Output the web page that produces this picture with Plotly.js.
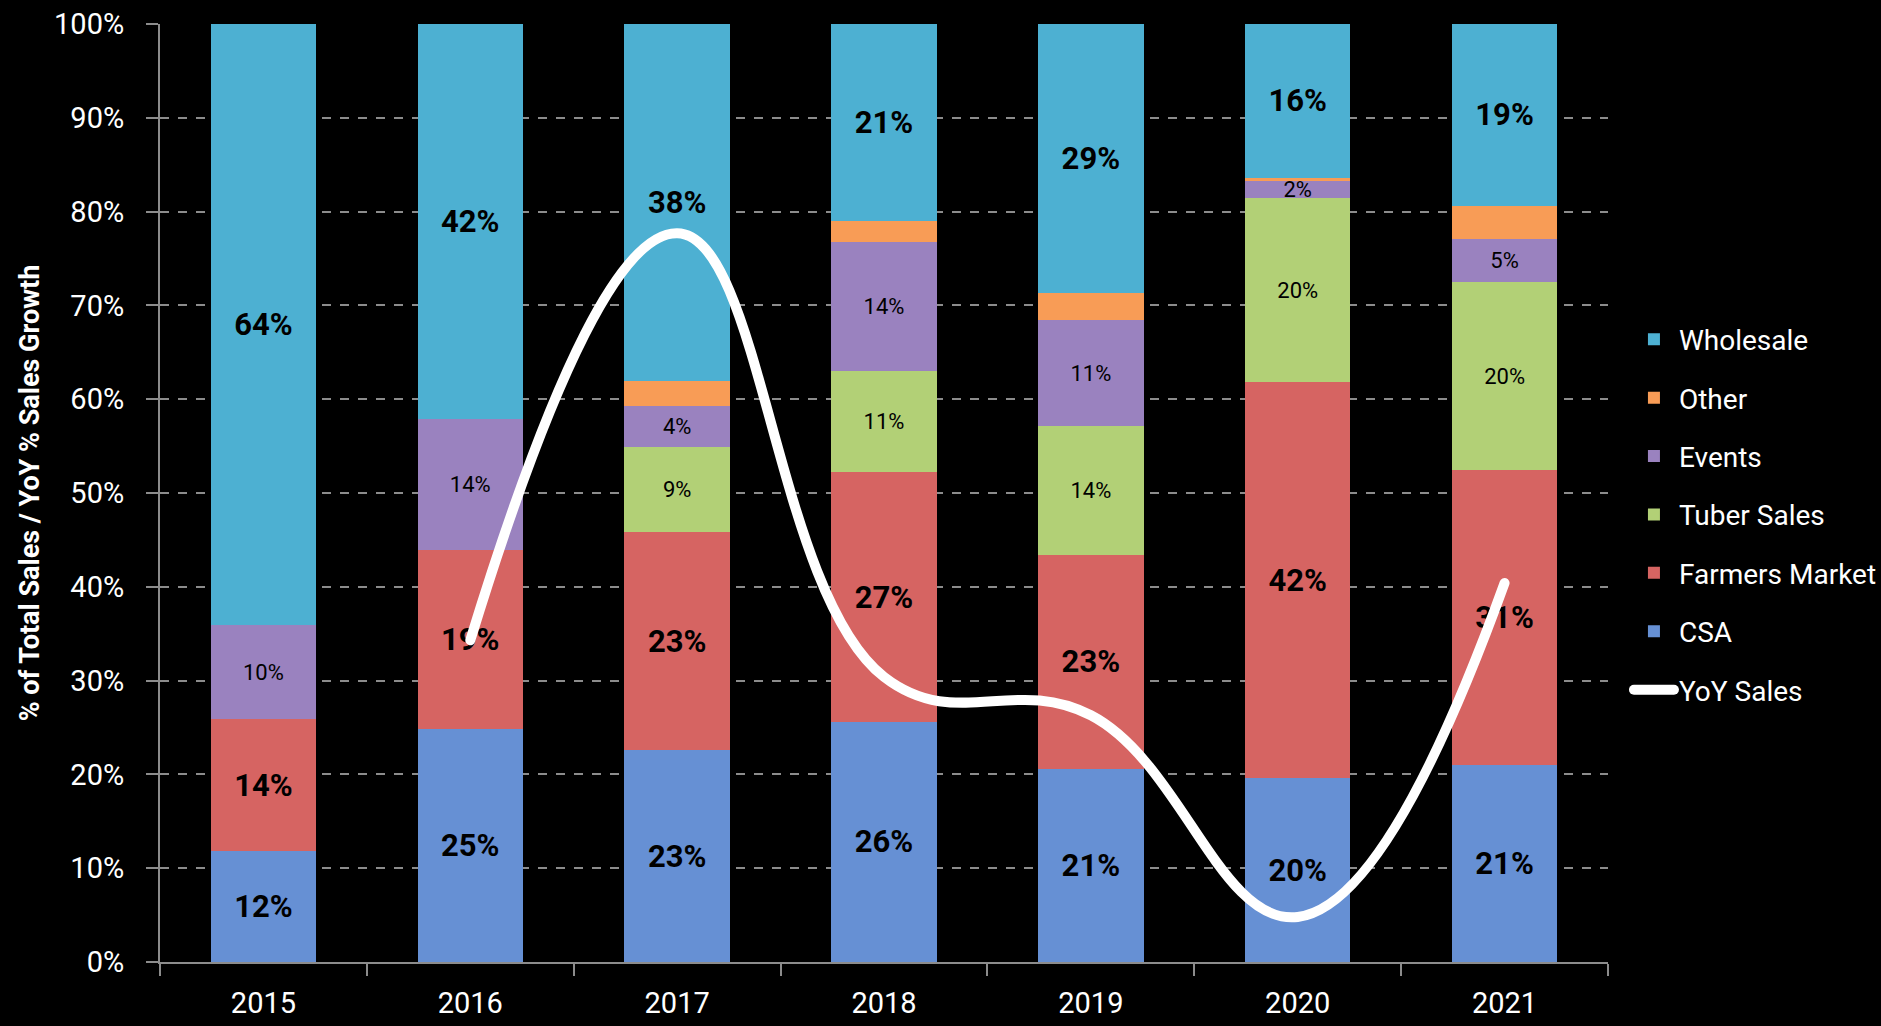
<!DOCTYPE html>
<html>
<head>
<meta charset="utf-8">
<script src="https://cdn.plot.ly/plotly-3.0.1.min.js"></script>
<style>
  html, body { margin: 0; padding: 0; background: #000; }
  #chart { width: 1881px; height: 1026px; }
  #chart .scatterlayer .js-line, #chart .legendlines path { stroke-linecap: round; }
</style>
</head>
<body>
<div id="chart"></div>
<script>
const years = ['2015', '2016', '2017', '2018', '2019', '2020', '2021'];
const csa           = [11.8, 24.8, 22.6, 25.6, 20.6, 19.6, 21.0];
const farmersMarket = [14.1, 19.1, 23.2, 26.6, 22.8, 42.2, 31.4];
const tuberSales    = [null, null, 9.1, 10.8, 13.7, 19.6, 20.1];
const events        = [10.0, 14.0, 4.4, 13.8, 11.3, 1.9, 4.6];
const other         = [null, null, 2.6, 2.2, 2.9, 0.3, 3.5];
const wholesale     = [64.1, 42.1, 38.1, 21.0, 28.7, 16.4, 19.4];
const yoySales      = [null, 34.3, 77.7, 30.4, 26.3, 4.8, 40.4];

const FONT = "Roboto, 'Liberation Sans', sans-serif";

function barTrace(name, values, color, rank, labelSize, bold) {
  const t = {
    type: 'bar',
    name: name,
    x: years,
    y: values,
    marker: { color: color, line: { width: 0 } },
    legendrank: rank,
    legendgroup: name,
    hoverinfo: 'skip'
  };
  if (labelSize) {
    t.texttemplate = '%{value:.0f}%';
    t.textposition = 'inside';
    t.insidetextanchor = 'middle';
    t.textangle = 0;
    t.constraintext = 'none';
    t.textfont = { family: FONT, size: labelSize, color: '#000', weight: bold ? 'bold' : 'normal' };
  } else {
    t.textposition = 'none';
  }
  return t;
}

const traces = [
  barTrace('CSA', csa, '#6690d4', 6, 31, true),
  barTrace('Farmers Market', farmersMarket, '#d66462', 5, 31, true),
  barTrace('Tuber Sales', tuberSales, '#b2d076', 4, 22, false),
  barTrace('Events', events, '#9a82bf', 3, 22, false),
  barTrace('Other', other, '#f89c56', 2, 0, false),
  barTrace('Wholesale', wholesale, '#4db0d2', 1, 31, true),
  {
    type: 'scatter',
    mode: 'lines',
    name: 'YoY Sales',
    x: years,
    y: yoySales,
    line: { color: '#ffffff', width: 10, shape: 'spline', smoothing: 1.2 },
    connectgaps: false,
    legendrank: 7,
    legendgroup: 'YoY Sales',
    hoverinfo: 'skip'
  }
];

const layout = {
  width: 1881,
  height: 1026,
  paper_bgcolor: '#000000',
  plot_bgcolor: '#000000',
  barmode: 'stack',
  bargap: 0.49,
  margin: { l: 160, r: 273, t: 24, b: 64, pad: 0 },
  font: { family: FONT, color: '#ffffff', size: 28 },
  showlegend: true,
  legend: {
    xref: 'container',
    x: 0.866, xanchor: 'left',
    y: 0.477, yanchor: 'middle',
    font: { family: FONT, size: 28, color: '#ffffff' },
    bgcolor: 'rgba(0,0,0,0)',
    traceorder: 'grouped',
    tracegroupgap: 19,
    itemwidth: 40
  },
  xaxis: {
    type: 'category',
    showline: true,
    linecolor: '#8c8c8c',
    linewidth: 2,
    ticks: 'outside',
    tickson: 'boundaries',
    ticklen: 12,
    tickwidth: 2,
    tickcolor: '#8c8c8c',
    ticklabelstandoff: 14,
    tickfont: { family: FONT, size: 29, color: '#ffffff' },
    showgrid: false,
    zeroline: false,
    fixedrange: true
  },
  yaxis: {
    range: [0, 100],
    dtick: 10,
    tick0: 0,
    ticksuffix: '%',
    showline: true,
    linecolor: '#8c8c8c',
    linewidth: 2,
    ticks: 'outside',
    ticklen: 12,
    tickwidth: 2,
    tickcolor: '#8c8c8c',
    ticklabelstandoff: 16,
    tickfont: { family: FONT, size: 29, color: '#ffffff' },
    showgrid: true,
    gridcolor: '#8c8c8c',
    gridwidth: 2,
    griddash: 'dash',
    zeroline: false,
    fixedrange: true,
    title: {
      text: '% of Total Sales / YoY % Sales Growth',
      font: { family: FONT, size: 27, color: '#ffffff', weight: 'bold' },
      standoff: 7
    }
  }
};

Plotly.newPlot('chart', traces, layout, { displayModeBar: false, staticPlot: true });
</script>
</body>
</html>
